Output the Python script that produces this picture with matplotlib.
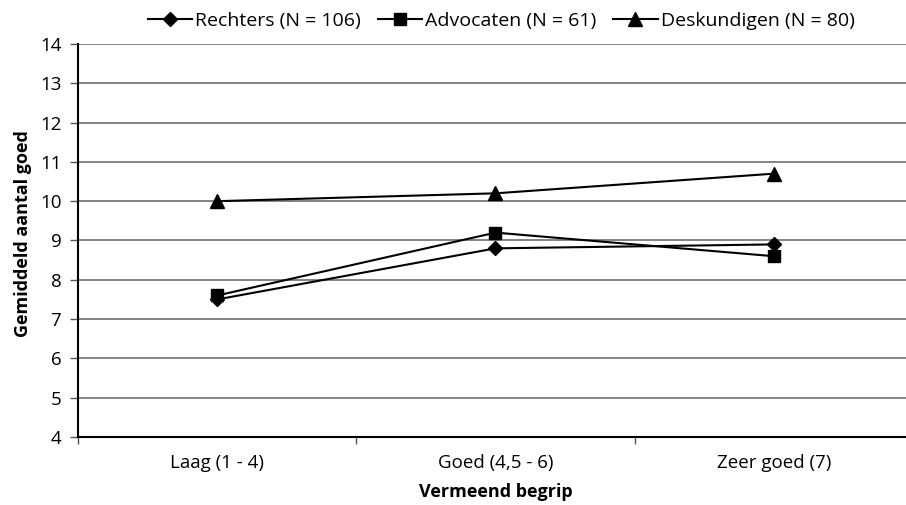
import matplotlib.pyplot as plt

plt.rcParams["font.family"] = ["Open Sans", "DejaVu Sans"]

categories = ["Laag (1 - 4)", "Goed (4,5 - 6)", "Zeer goed (7)"]
rechters = [7.5, 8.8, 8.9]
advocaten = [7.6, 9.2, 8.6]
deskundigen = [10.0, 10.2, 10.7]

fig = plt.figure(figsize=(9.06, 5.05), dpi=100)
ax = fig.add_axes([0.0861, 0.1347, 0.9216, 0.7782])

x = range(len(categories))
ax.plot(x, rechters, color="black", lw=1.5, marker="D", ms=7, label="Rechters (N = 106)")
ax.plot(x, advocaten, color="black", lw=1.5, marker="s", ms=9, label="Advocaten (N = 61)")
ax.plot(x, deskundigen, color="black", lw=1.5, marker="^", ms=9.5, label="Deskundigen (N = 80)")

ax.set_ylim(4, 14)
ax.set_yticks(range(4, 15))
ax.set_xlim(-0.5, 2.5)
ax.set_xticks([0, 1, 2])
ax.set_xticklabels(categories, fontsize=13.5)
ax.set_xticks([-0.5, 0.5, 1.5, 2.5], minor=True)
ax.tick_params(axis="x", which="major", length=0, pad=12)
ax.tick_params(axis="x", which="minor", length=5, width=1, color="#555555")
ax.tick_params(axis="y", length=6, width=1, color="#555555", labelsize=13.5, pad=6)
ax.yaxis.grid(True, color="#6e6e6e", lw=1.2)
ax.set_axisbelow(True)
for s in ["top", "right"]:
    ax.spines[s].set_visible(False)
ax.spines["left"].set_linewidth(1.5)
ax.spines["bottom"].set_linewidth(1.5)

ax.set_xlabel("Vermeend begrip", fontsize=13, fontweight="bold", labelpad=8)
ax.set_ylabel("Gemiddeld aantal goed", fontsize=13, fontweight="bold")
ax.yaxis.set_label_coords(-0.055, 0.517)

fig.legend(loc="center", bbox_to_anchor=(0.553, 0.958), ncol=3, frameon=False,
           fontsize=14, handlelength=2.3, handletextpad=0.15, columnspacing=0.85)

fig.savefig("out.png", dpi=100)
